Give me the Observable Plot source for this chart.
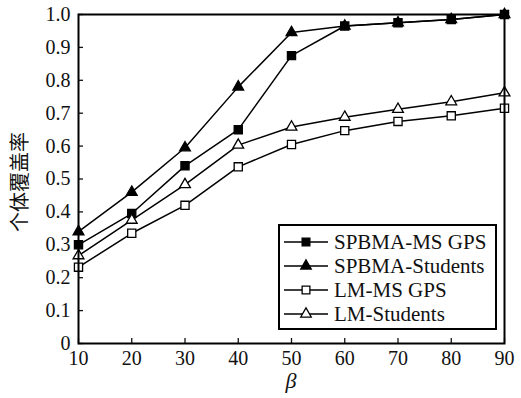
<!DOCTYPE html>
<html>
<head>
<meta charset="utf-8">
<script src="https://cdn.jsdelivr.net/npm/d3@7"></script>
<script src="https://cdn.jsdelivr.net/npm/@observablehq/plot@0.6"></script>
<style>
  html, body { margin: 0; padding: 0; background: #fff; }
  #wrap { position: relative; width: 521px; height: 398px; }
  #legend { position: absolute; left: 278px; top: 224px; width: 215px; height: 102px;
    border: 2px solid #000; background: #fff; box-sizing: content-box;
    font-family: "Liberation Serif", "DejaVu Serif", serif; font-size: 21px; color: #111; }
  .row { position: absolute; left: 0; height: 24px; display: flex; align-items: center; }
  .row svg { margin-left: 4px; margin-right: 6px; }
  svg text { font-family: "Liberation Serif", "DejaVu Serif", serif; }
</style>
</head>
<body>
<div id="wrap"></div>
<script>
const beta = [10, 20, 30, 40, 50, 60, 70, 80, 90];
const seriesNames = ["SPBMA-MS GPS", "SPBMA-Students", "LM-MS GPS", "LM-Students"];
const spbmaMsGps = [0.30, 0.395, 0.54, 0.65, 0.875, 0.965, 0.975, 0.985, 1.00];
const spbmaStudents = [0.34, 0.46, 0.595, 0.78, 0.945, 0.965, 0.975, 0.985, 1.00];
const lmMsGps = [0.232, 0.335, 0.42, 0.537, 0.605, 0.647, 0.675, 0.692, 0.715];
const lmStudents = [0.267, 0.375, 0.483, 0.603, 0.658, 0.688, 0.712, 0.735, 0.762];
const yTicks = [0, 0.1, 0.2, 0.3, 0.4, 0.5, 0.6, 0.7, 0.8, 0.9, 1.0];
const yTickLabels = ["0", "0.1", "0.2", "0.3", "0.4", "0.5", "0.6", "0.7", "0.8", "0.9", "1.0"];

const serif = "'Liberation Serif', 'DejaVu Serif', serif";
const styles = [
  {symbol: "square", fill: "#000"},
  {symbol: "triangle", fill: "#000"},
  {symbol: "square", fill: "#fff"},
  {symbol: "triangle", fill: "#fff"}
];
const allSeries = [spbmaMsGps, spbmaStudents, lmMsGps, lmStudents];
const data = allSeries.flatMap((vals, i) => vals.map((v, j) => ({series: seriesNames[i], idx: i, x: beta[j], y: v})));

const marks = [];
allSeries.forEach((vals, i) => {
  const d = data.filter(r => r.idx === i);
  marks.push(Plot.line(d, {x: "x", y: "y", stroke: "#000", strokeWidth: 1.5}));
});
allSeries.forEach((vals, i) => {
  const d = data.filter(r => r.idx === i);
  marks.push(Plot.dot(d, {x: "x", y: "y", symbol: () => styles[i].symbol, r: styles[i].symbol === "square" ? 4.6 : 4.0,
    fill: styles[i].fill, stroke: "#000", strokeWidth: 1.3}));
});

const chart = Plot.plot({
  width: 521, height: 398,
  marginLeft: 78, marginRight: 17, marginTop: 14, marginBottom: 55,
  style: {fontFamily: serif, fontSize: "20px", color: "#111", background: "#fff"},
  x: {domain: [10, 90]},
  y: {domain: [0, 1]},
  symbol: {type: "identity"},
  marks: [
    Plot.axisX({ticks: beta, tickSize: -5, tickPadding: 12, tickFormat: d => String(d), label: null, strokeWidth: 1.3, fontFamily: serif, fontSize: 20}),
    Plot.axisY({ticks: yTicks, tickSize: -5, tickPadding: 13, tickFormat: (d) => yTickLabels[yTicks.indexOf(d)], label: null, strokeWidth: 1.3, fontFamily: serif, fontSize: 20}),
    ...marks,
    Plot.frame({stroke: "#000", strokeWidth: 2})
  ]
});
const wrap = document.getElementById("wrap");
wrap.appendChild(chart);

// axis titles
const svg = d3.select(chart);
svg.append("text").attr("x", 291).attr("y", 388).attr("text-anchor", "middle")
  .attr("font-style", "italic").attr("font-size", 22).style("font-family", serif).text("β");
svg.append("text").attr("transform", "translate(27,182) rotate(-90)").attr("text-anchor", "middle")
  .attr("font-size", 20).style("font-family", "'Noto Sans CJK SC', sans-serif").attr("fill", "#111").text("个体覆盖率");

// legend
const legend = document.createElement("div");
legend.id = "legend";
seriesNames.forEach((name, i) => {
  const row = document.createElement("div");
  row.className = "row";
  row.style.top = (4 + i * 24) + "px";
  const s = d3.create("svg").attr("width", 44).attr("height", 20);
  s.append("line").attr("x1", 0).attr("x2", 44).attr("y1", 10).attr("y2", 10).attr("stroke", "#000").attr("stroke-width", 1.5);
  const sym = styles[i].symbol === "square" ? d3.symbolSquare : d3.symbolTriangle;
  const size = styles[i].symbol === "square" ? 60 : 48;
  s.append("path").attr("d", d3.symbol(sym, size)()).attr("transform", "translate(22,10)")
    .attr("fill", styles[i].fill).attr("stroke", "#000").attr("stroke-width", 1.3);
  row.appendChild(s.node());
  const t = document.createElement("span");
  t.textContent = name;
  row.appendChild(t);
  legend.appendChild(row);
});
wrap.appendChild(legend);
</script>
</body>
</html>
